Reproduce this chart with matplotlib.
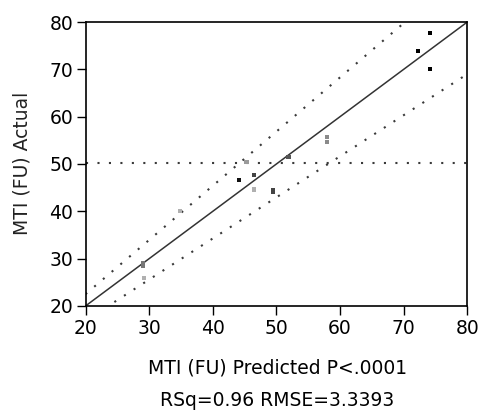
import matplotlib
matplotlib.use("Agg")
import matplotlib.pyplot as plt

# Data
predicted = [74.1, 72.3, 74.1, 57.9, 57.9, 51.9, 45.3, 44.1, 46.5, 46.5, 49.5, 49.5, 34.8, 29.0, 29.0, 29.2]
actual    = [77.7, 73.9, 70.1, 55.7, 54.7, 51.5, 50.5, 46.7, 47.6, 44.6, 44.5, 44.0, 40.0, 29.0, 28.5, 26.0]
shade     = ['#000000', '#000000', '#000000', '#8a8a8a', '#8a8a8a', '#555555', '#9a9a9a', '#111111',
             '#444444', '#b0b0b0', '#444444', '#444444', '#b0b0b0', '#777777', '#777777', '#b0b0b0']

fit_x = [20, 80]
fit_y = [20, 80]
band_x = [20, 80]
upper_y = [22.5, 91.2]
lower_y = [16.9, 69.0]
mean_actual = 50.3

xticks = [20, 30, 40, 50, 60, 70, 80]
yticks = [20, 30, 40, 50, 60, 70, 80]

FS = 13.5
plt.rcParams['font.family'] = ['DejaVu Sans']
fig = plt.figure(figsize=(4.79, 4.12), dpi=100)
ax = fig.add_axes([0.1785, 0.2573, 0.7971, 0.6893])

ax.plot(fit_x, fit_y, color='#333333', lw=1.1, solid_capstyle='butt', zorder=2)
dot = (0, (1.0, 4.5))
ax.plot(band_x, upper_y, color='#3a3a3a', lw=1.5, linestyle=dot, zorder=2)
ax.plot(band_x, lower_y, color='#3a3a3a', lw=1.5, linestyle=dot, zorder=2)
ax.axhline(mean_actual, color='#3a3a3a', lw=1.5, linestyle=dot, zorder=2)

ax.scatter(predicted, actual, c=shade, marker='s', s=9, linewidths=0, zorder=3)

ax.set_xlim(20, 80)
ax.set_ylim(20, 80)
ax.set_xticks(xticks)
ax.set_yticks(yticks)
ax.tick_params(direction='out', length=6.5, width=1.0, labelsize=FS, colors='black')
ax.tick_params(axis='x', pad=3.2)
ax.tick_params(axis='y', pad=2.5)
for s in ax.spines.values():
    s.set_linewidth(1.2)
    s.set_color('black')

fig.text(0.5785, 1 - 368 / 412, 'MTI (FU) Predicted P<.0001', ha='center', va='center', fontsize=FS)
fig.text(0.5785, 1 - 400 / 412, 'RSq=0.96 RMSE=3.3393', ha='center', va='center', fontsize=FS)
fig.text(22 / 479, 1 - 163 / 412, 'MTI (FU) Actual', ha='center', va='center', rotation=90,
         fontsize=FS, color='#222222')

fig.savefig('out.png', dpi=100)
